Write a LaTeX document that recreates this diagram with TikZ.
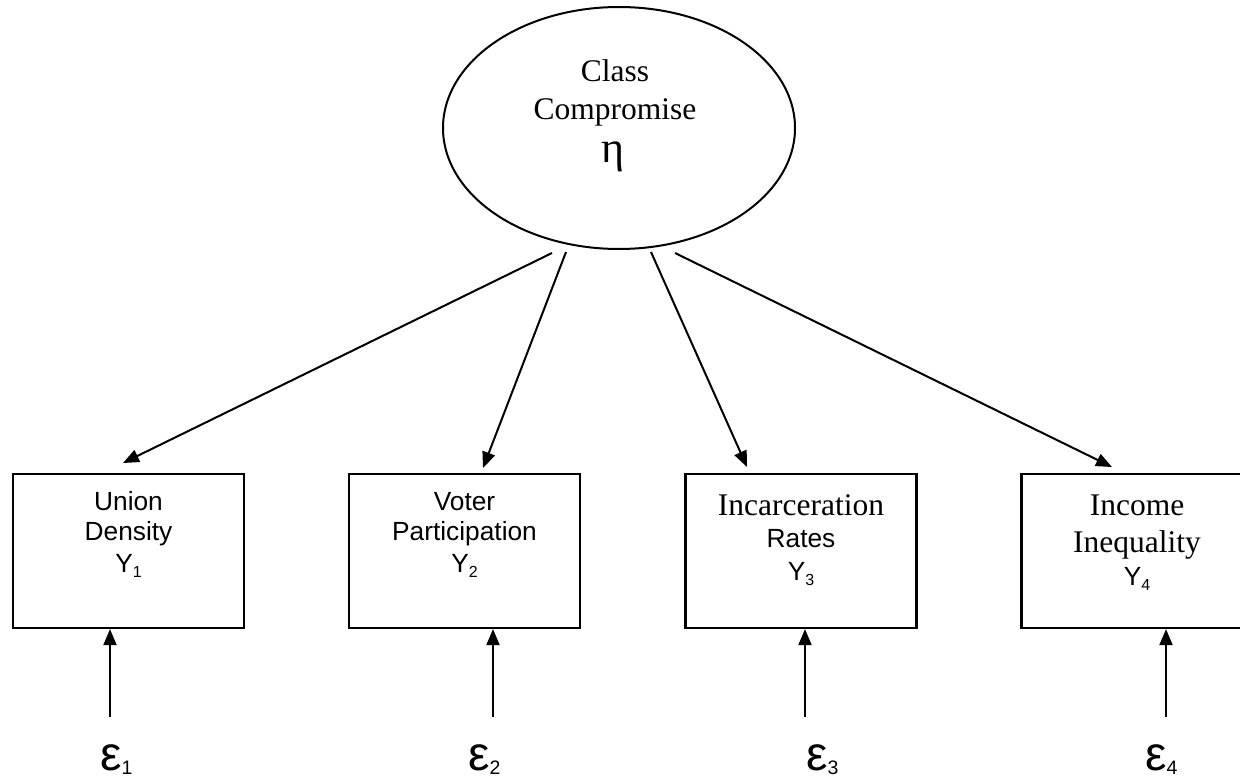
\documentclass[tikz,border=0pt]{standalone}
\usepackage{fontspec}
\setmainfont{Liberation Serif}
\newfontfamily\sansf{Liberation Sans}
\usetikzlibrary{arrows.meta,shapes.geometric}
\newcommand{\ysub}[1]{Y\raisebox{-5pt}{\fontsize{16}{16}\selectfont #1}}
\newcommand{\esub}[1]{ε\raisebox{-4pt}{\fontsize{19.5}{20}\selectfont #1}}
\begin{document}
\begin{tikzpicture}[x=1pt,y=-1pt,
  box/.style={draw, line width=2.2pt, minimum width=231pt, minimum height=154pt, inner sep=0pt},
  arr/.style={line width=2pt, -{Triangle[length=16pt,width=13pt]}},
  ser/.style={font=\fontsize{31.5}{36}\selectfont, anchor=base, inner sep=0pt},
  san/.style={font=\sansf\fontsize{26.3}{30}\selectfont, anchor=base, inner sep=0pt},
  eps/.style={font=\sansf\fontsize{48}{50}\selectfont, anchor=base west, inner sep=0pt},
]
\useasboundingbox (0,0) rectangle (1240,781);
\clip (0,0) rectangle (1240,781);
% latent variable
\node[draw, ellipse, line width=2pt, minimum width=352pt, minimum height=242pt, inner sep=0pt] (eta) at (619,128) {};
\node[ser] (cl) at (615,82) {Class};
\node[ser] (cm) at (615,120) {Compromise};
\node[ser, font=\fontsize{44}{48}\selectfont] (et) at (613,163) {η};
% indicators
\node[box] (b1) at (128.5,551) {};
\node[box] (b2) at (464.5,551) {};
\node[box] (b3) at (801,551) {};
\node[box] (b4) at (1137,551) {};
\node[san] (l1a) at (128.5,510) {Union};
\node[san] (l1b) at (128.5,540) {Density};
\node[san] (l1c) at (128.5,572) {\ysub{1}};
\node[san] (l2a) at (464.5,510) {Voter};
\node[san] (l2b) at (464.5,540) {Participation};
\node[san] (l2c) at (464.5,572) {\ysub{2}};
\node[ser] (l3a) at (801,515) {Incarceration};
\node[san] (l3b) at (801,547) {Rates};
\node[san] (l3c) at (801,580) {\ysub{3}};
\node[ser] (l4a) at (1137,515) {Income};
\node[ser] (l4b) at (1137,552) {Inequality};
\node[san] (l4c) at (1137,585) {\ysub{4}};
% loadings
\coordinate (s1) at (552,253); \coordinate (t1) at (123,463);
\coordinate (s2) at (566,252); \coordinate (t2) at (483,468);
\coordinate (s3) at (651,252); \coordinate (t3) at (747,467);
\coordinate (s4) at (675,253); \coordinate (t4) at (1112,467);
\draw[arr] (s1) -- (t1);
\draw[arr] (s2) -- (t2);
\draw[arr] (s3) -- (t3);
\draw[arr] (s4) -- (t4);
% errors
\coordinate (u1) at (110,717);
\coordinate (u2) at (493,717);
\coordinate (u3) at (805,717);
\coordinate (u4) at (1166,717);
\draw[arr] (u1) -- (u1 |- b1.south);
\draw[arr] (u2) -- (u2 |- b2.south);
\draw[arr] (u3) -- (u3 |- b3.south);
\draw[arr] (u4) -- (u4 |- b4.south);
\node[eps] (e1) at (100,770) {\esub{1}};
\node[eps] (e2) at (468,770) {\esub{2}};
\node[eps] (e3) at (806,770) {\esub{3}};
\node[eps] (e4) at (1145,770) {\esub{4}};
\end{tikzpicture}
\end{document}
